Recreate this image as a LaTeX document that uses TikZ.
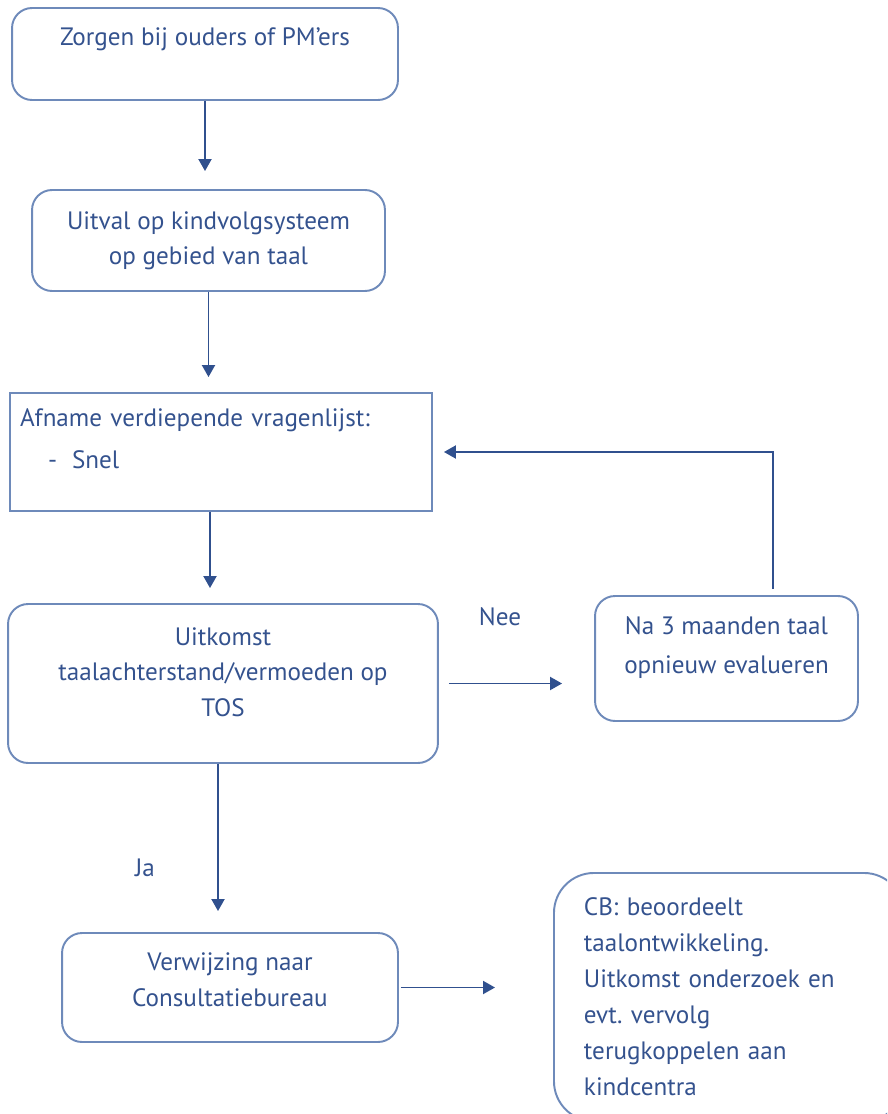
\documentclass[tikz,border=0pt]{standalone}
\usepackage{fontspec}
\setmainfont{PT Sans}
\usetikzlibrary{arrows.meta}
\definecolor{tekst}{RGB}{52,82,142}
\definecolor{rand}{RGB}{110,138,186}
\definecolor{pijlkleur}{RGB}{48,80,142}
\frenchspacing
\begin{document}
\begin{tikzpicture}[x=0.02cm,y=-0.02cm,
		vak/.style={draw=rand,line width=1.1pt,rounded corners=0.4cm,text=tekst,align=center,
			font=\fontsize{14.3}{20}\selectfont},
		pijl/.style={draw=pijlkleur,line width=1.1pt,-{Triangle[length=0.24cm,width=0.26cm]}},
		opschrift/.style={text=tekst,font=\fontsize{14.3}{20}\selectfont}]
		\useasboundingbox (0,0) rectangle (887,1114);
		\clip (0,0) rectangle (887,1114);
		\node[vak,minimum width=7.72cm,minimum height=1.84cm] (zorgen) at (205,54)
			{Zorgen bij ouders of PM’ers\\\mbox{}};
		\node[vak,minimum width=7.06cm,minimum height=2.02cm] (uitval) at (208.5,240.5)
			{Uitval op kindvolgsysteem\\op gebied van taal};
		\node[vak,rounded corners=0pt,align=left,minimum width=8.44cm,minimum height=2.36cm,
			inner xsep=0.2cm,text width=8.04cm] (afname) at (221,452)
			{Afname verdiepende vragenlijst:\\[4pt]\hspace*{0.56cm}\makebox[0.48cm][l]{-}Snel\\[-5pt]\mbox{}};
		\node[vak,minimum width=8.6cm,minimum height=3.18cm] (uitkomst) at (223,683.5)
			{Uitkomst\\taalachterstand/vermoeden op\\TOS\\[-7pt]\mbox{}};
		\node[vak,minimum width=5.26cm,minimum height=2.5cm] (evalueren) at (726.5,658.5)
			{Na 3 maanden taal\\[2pt]opnieuw evalueren\\[-5pt]\mbox{}};
		\node[vak,minimum width=6.72cm,minimum height=2.18cm] (verwijzing) at (230,987.5)
			{Verwijzing naar\\Consultatiebureau\\[-11pt]\mbox{}};
		\node[vak,rounded corners=0.8cm,anchor=north west,align=left,minimum width=7cm,
			inner xsep=0.6cm,inner ysep=0.5cm,text width=5.8cm,
			font=\fontsize{14.3}{20.5}\selectfont] (cb) at (553,872)
			{CB: beoordeelt\\taalontwikkeling.\\Uitkomst onderzoek en\\evt. vervolg\\terugkoppelen aan\\kindcentra};
		\node[opschrift] (nee) at (500,617) {Nee};
		\node[opschrift] (ja) at (145,868) {Ja};
		\draw[pijl,shorten >=0.36cm] (zorgen.south) -- (zorgen.south |- uitval.north);
		\draw[pijl,shorten >=0.3cm] (uitval.south) -- (uitval.south |- afname.north);
		\draw[pijl,shorten >=0.3cm] ([xshift=-0.22cm]afname.south) -- ([xshift=-0.22cm]afname.south |- uitkomst.north);
		\draw[pijl,shorten <=0.2cm,shorten >=0.64cm] (uitkomst.east) -- (uitkomst.east -| evalueren.west);
		\draw[pijl,shorten <=0.12cm,shorten >=0.22cm] ([xshift=0.93cm]evalueren.north) |- (afname.east);
		\draw[pijl,shorten >=0.42cm] ([xshift=-0.1cm]uitkomst.south) -- ([xshift=-0.1cm]uitkomst.south |- verwijzing.north);
		\draw[pijl,shorten <=0.04cm,shorten >=1.16cm] (verwijzing.east) -- (verwijzing.east -| cb.west);
	\end{tikzpicture}
\end{document}
